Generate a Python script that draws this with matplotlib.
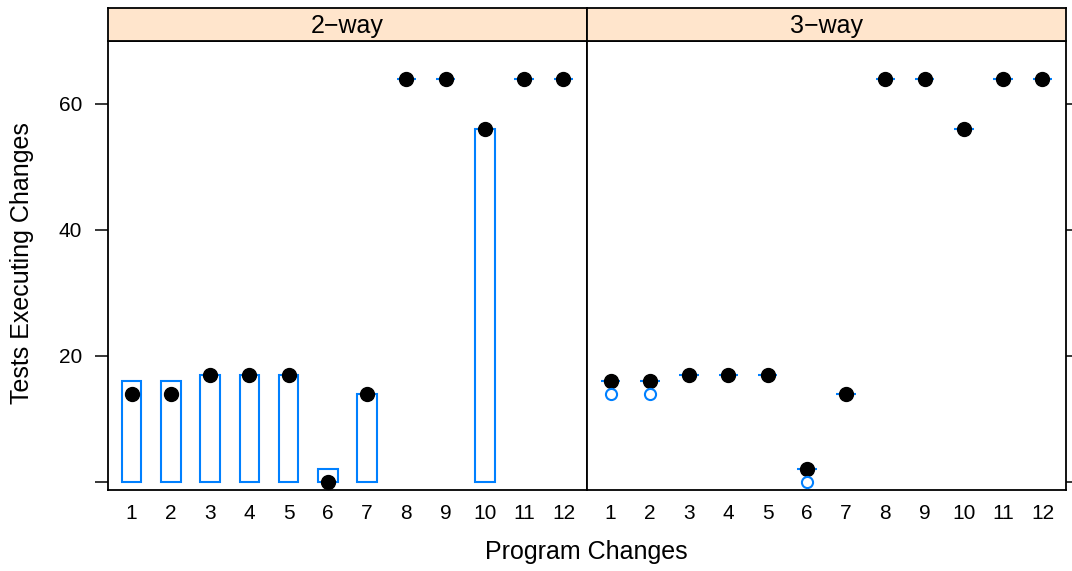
import numpy as np
import matplotlib.pyplot as plt

plt.rcParams['font.family'] = ['Liberation Sans', 'DejaVu Sans']

# Data (box = lower/upper hinge, dot = median)
changes = [1, 2, 3, 4, 5, 6, 7, 8, 9, 10, 11, 12]
panels = ['2\u2212way', '3\u2212way']

lower_2way = [0, 0, 0, 0, 0, 0, 0, 64, 64, 0, 64, 64]
upper_2way = [16, 16, 17, 17, 17, 2, 14, 64, 64, 56, 64, 64]
median_2way = [14, 14, 17, 17, 17, 0, 14, 64, 64, 56, 64, 64]

lower_3way = [16, 16, 17, 17, 17, 2, 14, 64, 64, 56, 64, 64]
upper_3way = [16, 16, 17, 17, 17, 2, 14, 64, 64, 56, 64, 64]
median_3way = [16, 16, 17, 17, 17, 2, 14, 64, 64, 56, 64, 64]
outlier_x_3way = [1, 2, 6]
outlier_y_3way = [14, 14, 0]

data = [
    (lower_2way, upper_2way, median_2way, [], []),
    (lower_3way, upper_3way, median_3way, outlier_x_3way, outlier_y_3way),
]

blue = '#0080ff'
fig = plt.figure(figsize=(10.72, 5.71), dpi=100)

left, width = 108 / 1072, 479 / 1072
bottom, top = 1 - 490 / 571, 1 - 41 / 571
strip_top = 1 - 8 / 571

for i, (lo, hi, med, ox, oy) in enumerate(data):
    x0 = left + i * width
    ax = fig.add_axes([x0, bottom, width, top - bottom])
    x = np.array(changes)
    lo = np.array(lo)
    hi = np.array(hi)
    ax.bar(x, hi - lo, bottom=lo, width=0.5, facecolor='none',
           edgecolor=blue, linewidth=1.5, zorder=2)
    ax.plot(x, med, 'o', color='black', markersize=10, zorder=3)
    if ox:
        ax.plot(ox, oy, 'o', markerfacecolor='none', markeredgecolor=blue,
                markeredgewidth=1.5, markersize=8, zorder=3)
    ax.set_xlim(0.4, 12.6)
    ax.set_ylim(-1.3, 70)
    ax.set_xticks(changes)
    ax.set_xticklabels([str(c) for c in changes])
    ax.set_yticks([0, 20, 40, 60])
    ax.tick_params(axis='x', length=0, pad=10, labelsize=15)
    ax.tick_params(axis='y', direction='out', length=9.5, width=1.1,
                   pad=9, labelsize=15)
    if i == 0:
        ax.set_yticklabels(['', '20', '40', '60'])
        ax.tick_params(axis='y', left=True, right=False, labelleft=True)
    else:
        ax.tick_params(axis='y', left=False, right=True, labelleft=False,
                       labelright=False)
    for sp in ax.spines.values():
        sp.set_linewidth(1.3)

    sax = fig.add_axes([x0, top, width, strip_top - top])
    sax.set_facecolor('#ffe5cc')
    sax.set_xticks([])
    sax.set_yticks([])
    for sp in sax.spines.values():
        sp.set_linewidth(1.3)
    sax.text(0.5, 0.45, panels[i], ha='center', va='center', fontsize=18,
             transform=sax.transAxes)

fig.text(586.5 / 1072, 1 - 552 / 571, 'Program Changes', ha='center',
         va='center', fontsize=18)
fig.text(22 / 1072, 1 - 263 / 571, 'Tests Executing Changes', ha='center',
         va='center', rotation=90, fontsize=18)

fig.savefig('out.png', dpi=100)
